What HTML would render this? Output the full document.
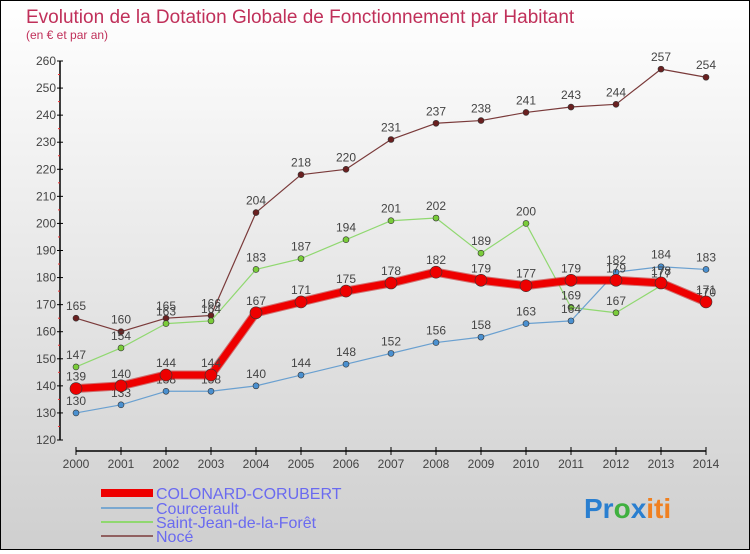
<!DOCTYPE html>
<html><head><meta charset="utf-8">
<style>
html,body{margin:0;padding:0}
body{width:750px;height:550px;overflow:hidden;font-family:"Liberation Sans",sans-serif}
#wrap{position:relative;width:748px;height:548px;border:1px solid #000;background:linear-gradient(#ffffff,#cfcfcf)}
svg text{font-family:"Liberation Sans",sans-serif}
</style></head><body>
<div id="wrap">
<svg id="chart" width="748" height="548">
<text x="25" y="22" font-size="19" fill="#c0305a">Evolution de la Dotation Globale de Fonctionnement par Habitant</text>
<text x="25" y="38" font-size="12" fill="#c0305a">(en € et par an)</text>
<g id="axes"></g><g id="series"></g>
<g>
<line x1="100" y1="492" x2="152" y2="492" stroke="#e00" stroke-width="8"/>
<text x="155" y="498" font-size="16" fill="#6a6af0">COLONARD-CORUBERT</text>
<line x1="100" y1="507" x2="152" y2="507" stroke="#7aa8d0" stroke-width="2"/>
<text x="155" y="513" font-size="16" fill="#6a6af0">Courcerault</text>
<line x1="100" y1="521" x2="152" y2="521" stroke="#90d870" stroke-width="2"/>
<text x="155" y="527" font-size="16" fill="#6a6af0">Saint-Jean-de-la-Forêt</text>
<line x1="100" y1="535" x2="152" y2="535" stroke="#906060" stroke-width="2"/>
<text x="155" y="541" font-size="16" fill="#6a6af0">Nocé</text>
</g>
<g font-size="28" font-weight="bold">
<text x="583" y="517"><tspan fill="#2a7fd0">Pr</tspan><tspan fill="#40b040">o</tspan><tspan fill="#2a7fd0">x</tspan><tspan fill="#f08020">iti</tspan></text>
</g>
</svg>
</div>
<script>
const years=[2000,2001,2002,2003,2004,2005,2006,2007,2008,2009,2010,2011,2012,2013,2014];
const yTicks=[120,130,140,150,160,170,180,190,200,210,220,230,240,250,260];
const colonard=[139,140,144,144,167,171,175,178,182,179,177,179,179,178,171];
const courcerault=[130,133,138,138,140,144,148,152,156,158,163,164,182,184,183];
const saintJean=[147,154,163,164,183,187,194,201,202,189,200,169,167,177,170];
const noce=[165,160,165,166,204,218,220,231,237,238,241,243,244,257,254];
const NS="http://www.w3.org/2000/svg";
function xS(i){return 75+i*(630/14);}
function yS(v){return 439-(v-120)*(379/140);}
function mk(tag,attrs,parent){const e=document.createElementNS(NS,tag);for(const k in attrs)e.setAttribute(k,attrs[k]);parent.appendChild(e);return e;}
const axes=document.getElementById('axes');
const ya=mk('line',{x1:59,y1:yS(260),x2:59,y2:yS(120),stroke:'#000','stroke-width':1.5},axes);


yTicks.forEach(v=>{
  mk('line',{x1:56,y1:yS(v),x2:62,y2:yS(v),stroke:'#000'},axes);
  if(v<260){mk('line',{x1:57,y1:yS(v+5),x2:59,y2:yS(v+5),stroke:'#e33'},axes);}
  const t=mk('text',{x:55,y:yS(v)+4,'text-anchor':'end','font-size':12,fill:'#444'},axes);
  
  
  t.textContent=v;
});
const xa=mk('line',{x1:75,y1:450,x2:705,y2:450,stroke:'#000','stroke-width':1.5},axes);


years.forEach((y,i)=>{
  mk('line',{x1:xS(i),y1:446,x2:xS(i),y2:454,stroke:'#000'},axes);
  const t=mk('text',{x:xS(i),y:467,'text-anchor':'middle','font-size':12,fill:'#444'},axes);
  
  
  t.textContent=y;
});
const ser=document.getElementById('series');
function draw(vals,color,w,dotFill,dotR,name){
  const g=mk('g',{},ser);
  
  
  const pts=vals.map((v,i)=>xS(i)+','+yS(v)).join(' ');
  if(w>4){mk('polyline',{points:pts,fill:'none',stroke:'#b00','stroke-width':w+2,'stroke-linejoin':'round',opacity:0.5},g);}
  const pl=mk('polyline',{points:pts,fill:'none',stroke:color,'stroke-width':w,'stroke-linejoin':'round'},g);
  
  
  vals.forEach((v,i)=>{
    const c=mk('circle',{cx:xS(i),cy:yS(v),r:dotR,fill:dotFill,stroke:'#333','stroke-width':0.6},g);
    
    
    const t=mk('text',{x:xS(i),y:yS(v)-8,'text-anchor':'middle','font-size':12,fill:'#444'},g);
    
    
    t.textContent=v;
  });
}
draw(noce,'#7a3a3a',1.2,'#6a2020',3,'noce');
draw(saintJean,'#90d870',1.2,'#7acc3a',3,'saint-jean');
draw(courcerault,'#6aa0d0',1.2,'#4a90d0',3,'courcerault');
draw(colonard,'#ee0000',7,'#ee0000',6,'colonard');
</script>
</body></html>
